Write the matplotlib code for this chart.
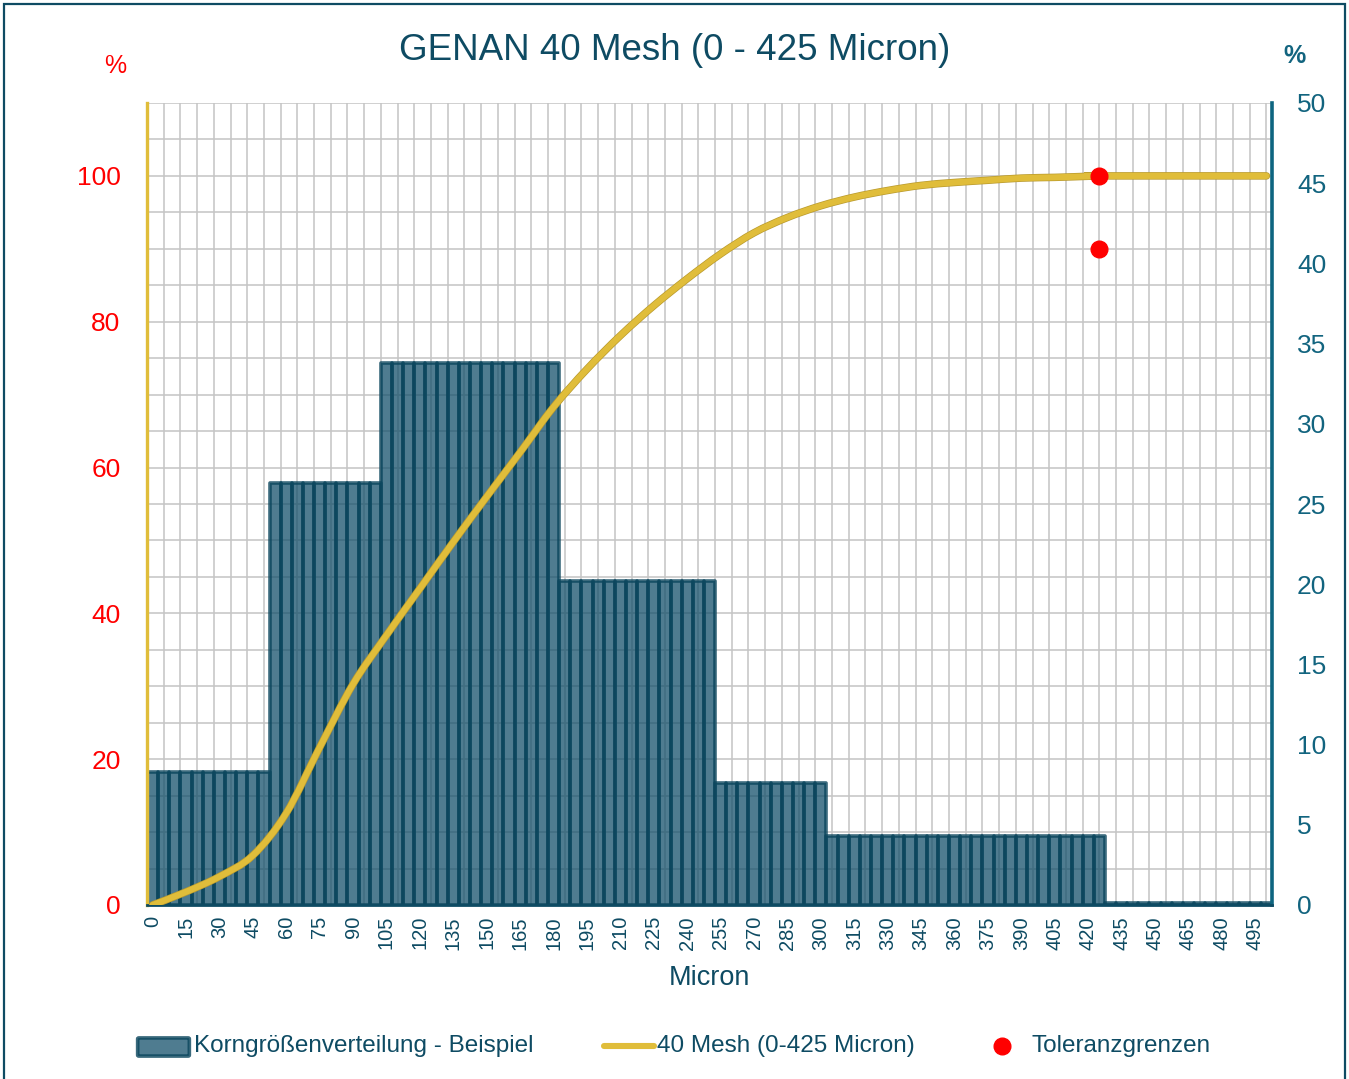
import matplotlib
matplotlib.use('Agg')
import matplotlib.pyplot as plt
import matplotlib.patches as patches
import matplotlib.patheffects as pe
from matplotlib.path import Path
from matplotlib.lines import Line2D

plt.rcParams['font.family'] = ['Liberation Sans', 'DejaVu Sans']

W, H = 1349, 1079

# categories: 0 .. 500 micron, every 5
microns = list(range(0, 505, 5))

# bar heights (right axis, %), read per group of equal bars
bar_values = ([8.3] * 11 + [26.3] * 10 + [33.8] * 16 + [20.2] * 14
              + [7.6] * 10 + [4.3] * 25 + [0.15] * 15)

# cumulative curve (left axis, %)
curve_microns = [0, 15, 30, 45, 60, 75, 90, 105, 120, 135, 150, 165, 180,
                 195, 210, 225, 240, 255, 270, 285, 300, 315, 330, 345, 360,
                 375, 390, 405, 420, 425, 500]
curve_values = [0.0, 1.8, 3.9, 6.8, 12.6, 21.6, 30.3, 37.0, 43.4, 49.8, 56.0,
                62.1, 68.3, 73.5, 78.1, 82.2, 85.9, 89.3, 92.2, 94.3, 95.9,
                97.1, 98.0, 98.7, 99.1, 99.4, 99.7, 99.8, 99.95, 100.0, 100.0]

# tolerance limits
tol_microns = [425, 425]
tol_values = [100, 90]

tick_microns = list(range(0, 500, 15))

teal = '#0e4b63'
teal_r = '#12647f'
yellow = '#e0bd3a'
red = '#ff0000'
grid_c = '#c4c4c4'


def px(x, y):
    return x / W, 1 - y / H


fig = plt.figure(figsize=(W / 100, H / 100), dpi=100)
x0, y0 = px(147, 905)
x1, y1 = px(1272, 103)
ax = fig.add_axes([x0, y0, x1 - x0, y1 - y0])   # bars, right scale
ax2 = ax.twinx()                                  # curve, left scale

idx = [m / 5 for m in microns]

# grid under the bars
for k in range(23):
    ax.axhline(k * 5 * 50 / 110, color=grid_c, lw=1.1, zorder=0)
for k in range(68):
    ax.axvline(-0.5 + 1.5 * k, color=grid_c, lw=1.1, zorder=0)

ax.bar(idx, bar_values, width=1.0, facecolor=(0.07, 0.31, 0.41, 0.74),
       edgecolor=(0.04, 0.27, 0.36, 0.8), linewidth=2.6, joinstyle='round',
       zorder=2)
ax.set_xlim(-0.5, 100.5)
ax.set_ylim(0, 50)
ax.yaxis.tick_right()
ax.set_yticks(range(0, 55, 5))
ax.tick_params(axis='y', length=0, pad=18, labelsize=19, labelcolor=teal_r)
ax.set_xticks([m / 5 for m in tick_microns])
ax.set_xticklabels([str(m) for m in tick_microns], rotation=90)
ax.tick_params(axis='x', length=0, pad=8, labelsize=14.5, labelcolor=teal)
ax.set_xlabel('Micron', fontsize=19.5, color=teal, labelpad=11)
for s in ax.spines.values():
    s.set_visible(False)

# smooth curve through the points (Catmull-Rom as Bezier segments)
pts = [(m / 5, v) for m, v in zip(curve_microns, curve_values)]
verts = [pts[0]]
codes = [Path.MOVETO]
for i in range(len(pts) - 1):
    p0 = pts[max(i - 1, 0)]
    p1 = pts[i]
    p2 = pts[i + 1]
    p3 = pts[min(i + 2, len(pts) - 1)]
    c1 = (p1[0] + (p2[0] - p0[0]) / 6, p1[1] + (p2[1] - p0[1]) / 6)
    c2 = (p2[0] - (p3[0] - p1[0]) / 6, p2[1] - (p3[1] - p1[1]) / 6)
    verts += [c1, c2, p2]
    codes += [Path.CURVE4] * 3
curve = patches.PathPatch(Path(verts, codes), fill=False, edgecolor=yellow,
                          lw=4.4, capstyle='round', zorder=3)
curve.set_path_effects([pe.Stroke(linewidth=5.4, foreground='#b99a2e'),
                        pe.Normal()])
ax2.add_patch(curve)

ax2.plot([m / 5 for m in tol_microns], tol_values, 'o', color=red,
         markersize=12, zorder=4, clip_on=False)

ax2.set_ylim(0, 110)
ax2.yaxis.tick_left()
ax2.set_yticks(range(0, 120, 20))
ax2.tick_params(axis='y', length=0, pad=19, labelsize=19, labelcolor=red)
ax2.spines['top'].set_visible(False)
ax2.spines['left'].set_color(yellow)
ax2.spines['left'].set_linewidth(2.4)
ax2.spines['right'].set_color('#0e6580')
ax2.spines['right'].set_linewidth(2.6)
ax2.spines['bottom'].set_color(teal)
ax2.spines['bottom'].set_linewidth(2.0)

# titles and unit labels
fig.text(*px(675, 50), 'GENAN 40 Mesh (0 - 425 Micron)', fontsize=26.5,
         color=teal, ha='center', va='center')
fig.text(*px(115, 66), '%', fontsize=18, color=red, ha='center', va='center')
fig.text(*px(1294, 56), '%', fontsize=18, color=teal_r, ha='center',
         va='center', fontweight='bold')

# legend
ly = 1046
fig.add_artist(patches.FancyBboxPatch(px(139, 1055), 49 / W, 16 / H,
               boxstyle='round,pad=0.001', transform=fig.transFigure,
               facecolor=(0.07, 0.31, 0.41, 0.74),
               edgecolor=(0.04, 0.27, 0.36, 0.8), linewidth=2.6))
fig.text(*px(194, ly), 'Korngrößenverteilung - Beispiel', fontsize=17.5,
         color=teal, va='center')
lx0, _ = px(604, ly)
lx1, lyf = px(654, ly)
fig.add_artist(Line2D([lx0, lx1], [lyf, lyf], color=yellow, lw=4.4,
                      solid_capstyle='round', transform=fig.transFigure))
fig.text(*px(657, ly), '40 Mesh (0-425 Micron)', fontsize=17.5, color=teal,
         va='center')
dx, dy = px(1002, ly)
fig.add_artist(Line2D([dx], [dy], marker='o', color=red, markersize=12,
                      transform=fig.transFigure))
fig.text(*px(1032, ly), 'Toleranzgrenzen', fontsize=17.5, color=teal,
         va='center')

# outer border
fig.add_artist(patches.Rectangle(px(4, 1090), 1341 / W, 1086 / H,
               transform=fig.transFigure, fill=False, edgecolor=teal,
               linewidth=1.6))

fig.savefig('out.png', dpi=100)
